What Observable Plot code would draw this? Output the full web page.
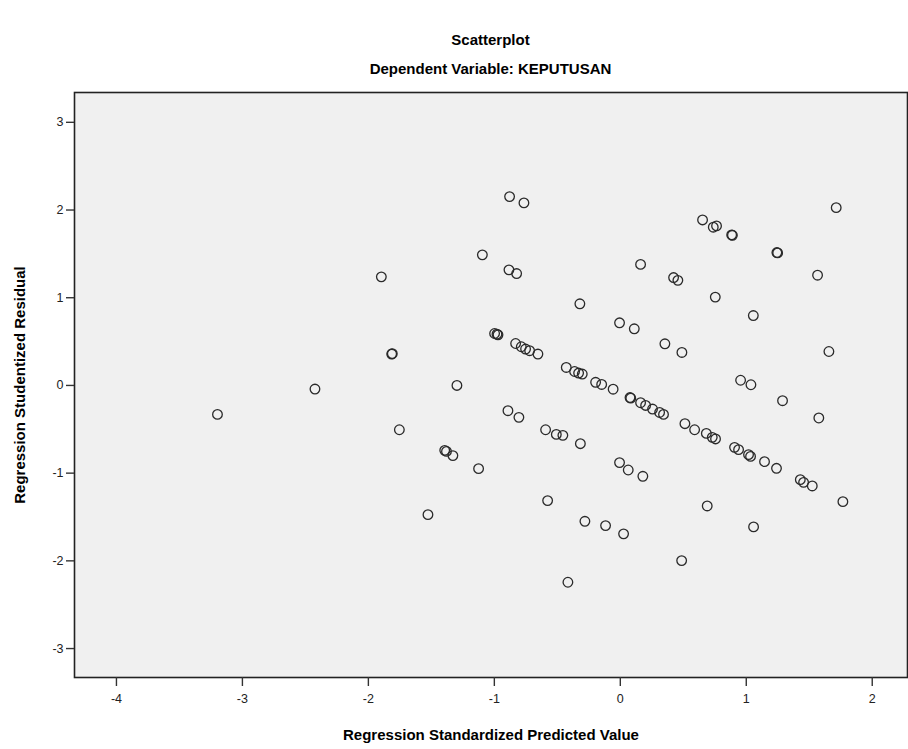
<!DOCTYPE html>
<html>
<head>
<meta charset="utf-8">
<script src="https://cdn.jsdelivr.net/npm/d3@7"></script>
<script src="https://cdn.jsdelivr.net/npm/@observablehq/plot@0.6"></script>
<style>
  html, body { margin: 0; padding: 0; background: #ffffff; }
  body { width: 908px; height: 749px; overflow: hidden; font-family: "Liberation Sans", Arial, sans-serif; }
  #head { position: relative; height: 80px; width: 908px; }
  .t { position: absolute; left: 74px; width: 833px; text-align: center; font-weight: bold; font-size: 15px; color: #000; }
  #t1 { top: 31px; }
  #t2 { top: 60px; }
  g[aria-label="x-axis tick label"], g[aria-label="y-axis tick label"] { font-size: 12.5px; }
</style>
</head>
<body>
<div id="head">
  <div class="t" id="t1">Scatterplot</div>
  <div class="t" id="t2">Dependent Variable: KEPUTUSAN</div>
</div>
<div id="chart"></div>
<script>
const titleText = "Scatterplot";
const subtitleText = "Dependent Variable: KEPUTUSAN";
const xLabel = "Regression Standardized Predicted Value";
const yLabel = "Regression Studentized Residual";
const xTicks = [-4, -3, -2, -1, 0, 1, 2];
const yTicks = [-3, -2, -1, 0, 1, 2, 3];

// Regression standardized predicted value (x)
const predicted = [
  -3.198, -2.424, -1.897, -1.815, -1.810, -1.754, -1.527, -1.297,
  -1.394, -1.380, -1.329, -1.125, -1.095, -0.879, -0.765, -0.884, -0.823,
  -0.998, -0.979, -0.971, -0.831, -0.786, -0.752, -0.720, -0.654,
  -0.892, -0.805, -0.593, -0.508, -0.456, -0.317, -0.577,
  -0.281, -0.117, 0.026, -0.416, -0.321,
  -0.429, -0.363, -0.331, -0.302, -0.196, -0.148, -0.057,
  -0.006, 0.111, 0.077, 0.083, 0.161, 0.201, 0.256, 0.312, 0.343,
  -0.006, 0.063, 0.179, 0.161, 0.423, 0.457, 0.354, 0.489,
  0.653, 0.738, 0.764, 0.884, 0.890, 0.754, 1.243, 1.249, 1.056,
  1.566, 1.714, 1.656, 0.955, 1.037, 1.288, 1.576,
  0.513, 0.590, 0.683, 0.730, 0.756, 0.907, 0.939, 1.018, 1.034,
  1.145, 1.240, 1.429, 1.455, 1.524, 1.767, 0.690, 1.058, 0.487
];

// Regression studentized residual (y)
const residual = [
  -0.330, -0.041, 1.238, 0.358, 0.362, -0.505, -1.473, 0.000,
  -0.740, -0.752, -0.800, -0.949, 1.489, 2.153, 2.081, 1.318, 1.276,
  0.592, 0.585, 0.577, 0.478, 0.441, 0.415, 0.396, 0.358,
  -0.288, -0.364, -0.505, -0.558, -0.569, -0.664, -1.313,
  -1.549, -1.598, -1.692, -2.244, 0.931,
  0.205, 0.159, 0.141, 0.130, 0.036, 0.011, -0.043,
  0.714, 0.646, -0.138, -0.145, -0.197, -0.228, -0.269, -0.308, -0.330,
  -0.880, -0.964, -1.036, 1.380, 1.230, 1.198, 0.475, 0.376,
  1.887, 1.804, 1.819, 1.716, 1.712, 1.007, 1.515, 1.511, 0.797,
  1.257, 2.027, 0.387, 0.059, 0.008, -0.174, -0.371,
  -0.436, -0.505, -0.547, -0.592, -0.610, -0.706, -0.732, -0.789, -0.809,
  -0.869, -0.945, -1.074, -1.105, -1.146, -1.325, -1.374, -1.613, -1.997
];

const data = predicted.map((x, i) => ({x, y: residual[i]}));
const fmt = d => String(d);

const chart = Plot.plot({
  width: 908,
  height: 669,
  marginLeft: 74,
  marginRight: 1,
  marginTop: 12,
  marginBottom: 72,
  style: {fontFamily: "'Liberation Sans', Arial, sans-serif", fontSize: "12px", color: "#222", background: "#ffffff"},
  x: {domain: [-4.333, 2.28]},
  y: {domain: [-3.33, 3.34]},
  marks: [
    Plot.frame({fill: "#f0f0f0", stroke: "none"}),
    Plot.dot(data, {x: "x", y: "y", r: 4.8, stroke: "#2a2a2a", strokeWidth: 1.3, fill: "none"}),
    Plot.frame({stroke: "#222", strokeWidth: 1.6}),
    Plot.axisX({ticks: xTicks, tickFormat: fmt, tickSize: 9, tickPadding: 8, stroke: "#333", strokeWidth: 1.4,
      fill: "#222", label: null}),
    Plot.axisY({ticks: yTicks, tickFormat: fmt, tickSize: 8, tickPadding: 3, stroke: "#333", strokeWidth: 1.4,
      fill: "#222", label: null}),
    Plot.axisX({ticks: [], tickSize: 0, label: xLabel, labelAnchor: "center", labelArrow: "none",
      labelOffset: 62, fontSize: 15, fontWeight: "bold", fill: "#000"}),
    Plot.axisY({ticks: [], tickSize: 0, label: yLabel, labelAnchor: "center", labelArrow: "none",
      labelOffset: 60, fontSize: 15, fontWeight: "bold", fill: "#000"})
  ]
});
document.getElementById("chart").appendChild(chart);
</script>
</body>
</html>
